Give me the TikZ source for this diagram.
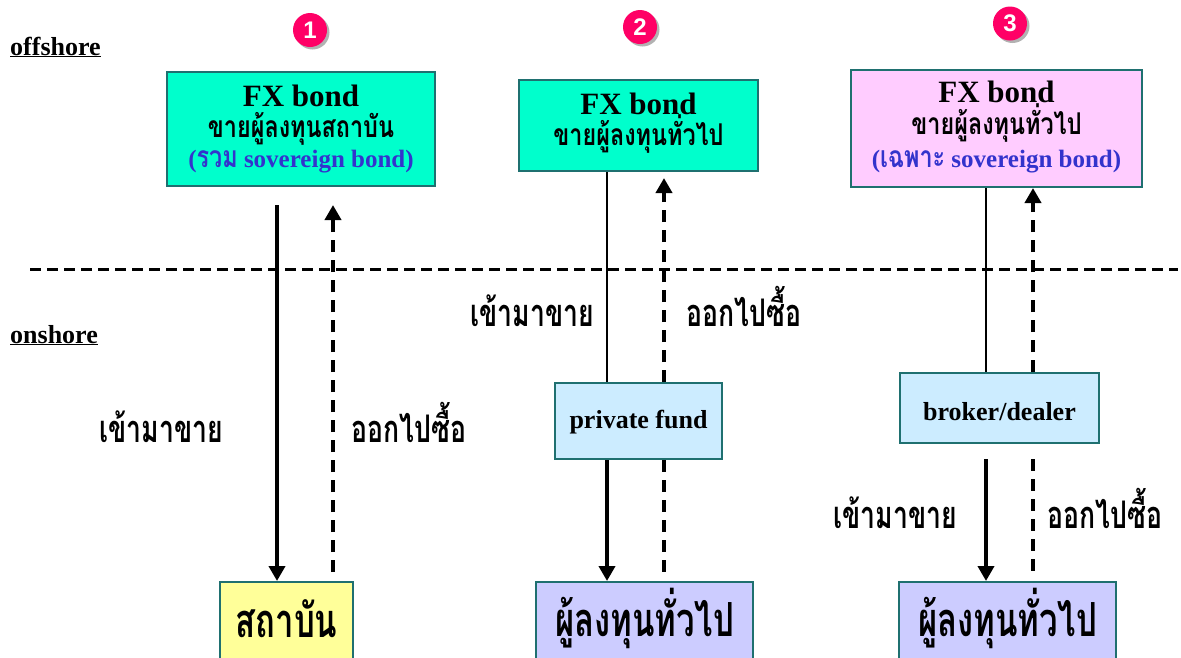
\documentclass[tikz,border=0pt]{standalone}
\usepackage{fontspec}
\setmainfont{Liberation Serif}
\newfontfamily\thai[Script=Thai, FakeStretch=0.7]{Loma}
\newfontfamily\thaiw[Script=Thai, FakeStretch=0.78]{Loma}
\newfontfamily\badgefont{Liberation Sans}
\usetikzlibrary{arrows.meta}
\definecolor{boxline}{HTML}{1F7070}
\definecolor{cyanfill}{HTML}{00FFCC}
\definecolor{pinkfill}{HTML}{FFCCFF}
\definecolor{lbfill}{HTML}{CCECFF}
\definecolor{lavfill}{HTML}{CCCCFF}
\definecolor{yelfill}{HTML}{FFFF99}
\definecolor{bluetxt}{HTML}{3333CC}
\definecolor{badge}{HTML}{FF0066}
\newcommand{\thaibl}{\thaiw\fontsize{30}{32}\selectfont}
\tikzset{
  box/.style={draw=boxline, line width=2pt, inner sep=0pt},
  txt/.style={inner sep=0pt, anchor=base},
  fx/.style={txt, font=\bfseries\fontsize{31}{33}\selectfont},
  thl/.style={txt, font=\thaiw\bfseries\fontsize{30}{32}\selectfont},
  bl/.style={txt, text=bluetxt, font=\bfseries\fontsize{25}{28}\selectfont},
  lat/.style={txt, font=\bfseries\fontsize{26}{28}\selectfont},
  big/.style={txt, font=\thai\bfseries\fontsize{47}{50}\selectfont},
  sarr/.style={line width=4pt, -{Triangle[length=15pt,width=16pt]}},
  thinln/.style={line width=2pt},
  dsh/.style={line width=4pt, dash pattern=on 12pt off 8pt},
  hdsh/.style={line width=3pt, dash pattern=on 11pt off 6pt},
  darr/.style={dsh, -{Triangle[length=15pt,width=16pt]}},
  lbl/.style={txt, font=\thai\bfseries\fontsize{38}{40}\selectfont},
  side/.style={txt, anchor=base west, font=\bfseries\fontsize{26}{28}\selectfont},
  badgec/.style={circle, fill=badge, minimum size=34pt, inner sep=0pt, text=white, font=\badgefont\bfseries\fontsize{24}{24}\selectfont},
  badgesh/.style={circle, fill=black!30, minimum size=34pt, inner sep=0pt},
}
\begin{document}
\begin{tikzpicture}[x=1pt,y=-1pt]
\useasboundingbox (0,0) rectangle (1181,657);
\clip (0,0) rectangle (1181,657);

% side labels
\node[side] (off) at (10,55) {\underline{offshore}};
\node[side] (on) at (10,343) {\underline{onshore}};

% badges
\foreach \nm/\xx/\yy/\t in {n1/310/30/1, n2/640/27/2, n3/1010/23.5/3}{
  \node[badgesh] at (\xx+2.5,\yy+2.5) {};
  \node[badgec] (\nm) at (\xx,\yy) {\t};
}

% top boxes
\node[box, fill=cyanfill, minimum width=268pt, minimum height=114pt] (b1) at (301,129) {};
\node[fx]  (b1a) at (301,106) {FX bond};
\node[thl] (b1b) at (301,137) {ขายผู้ลงทุนสถาบัน};
\node[bl]  (b1c) at (301,167) {({\thaibl รวม} sovereign bond)};

\node[box, fill=cyanfill, minimum width=239pt, minimum height=91pt] (b2) at (638.5,125.5) {};
\node[fx]  (b2a) at (638.5,114) {FX bond};
\node[thl] (b2b) at (638.5,145) {ขายผู้ลงทุนทั่วไป};

\node[box, fill=pinkfill, minimum width=291pt, minimum height=117pt] (b3) at (996.5,128.5) {};
\node[fx]  (b3a) at (996.5,102) {FX bond};
\node[thl] (b3b) at (996.5,134) {ขายผู้ลงทุนทั่วไป};
\node[bl]  (b3c) at (996.5,167) {({\thaibl เฉพาะ} sovereign bond)};

% divider
\coordinate (dl) at (30,269);
\coordinate (dr) at (1178,269);
\draw[hdsh] (dl) -- (dr);

% middle boxes
\node[box, fill=lbfill, minimum width=167pt, minimum height=76pt] (pf) at (638.5,421) {};
\node[lat] (pft) at (638.5,428) {private fund};
\node[box, fill=lbfill, minimum width=199pt, minimum height=70pt] (bd) at (999.5,408) {};
\node[lat] (bdt) at (999.5,420) {broker/dealer};

% bottom boxes
\node[box, fill=yelfill, minimum width=133pt, minimum height=82pt, anchor=north] (inst) at (286.5,581) {};
\node[big] (instt) at (286.5,637) {สถาบัน};
\node[box, fill=lavfill, minimum width=217pt, minimum height=82pt, anchor=north] (inv2) at (644.5,581) {};
\node[big] (inv2t) at (644.5,636) {ผู้ลงทุนทั่วไป};
\node[box, fill=lavfill, minimum width=217pt, minimum height=82pt, anchor=north] (inv3) at (1007.5,581) {};
\node[big] (inv3t) at (1007.5,636) {ผู้ลงทุนทั่วไป};

% column x positions
\coordinate (x1s) at (277,0);
\coordinate (x1d) at (333,0);
\coordinate (x2s) at (607,0);
\coordinate (x2d) at (664,0);
\coordinate (x3s) at (986,0);
\coordinate (x3d) at (1033,0);

% column 1
\draw[sarr, shorten <=18pt] (b1.south -| x1s) -- (inst.north -| x1s);
\draw[darr, shorten <=9pt, shorten >=18pt] (inst.north -| x1d) -- (b1.south -| x1d);
% column 2
\draw[thinln] (b2.south -| x2s) -- (pf.north -| x2s);
\draw[darr, shorten >=6pt] (pf.north -| x2d) -- (b2.south -| x2d);
\draw[sarr] (pf.south -| x2s) -- (inv2.north -| x2s);
\draw[dsh, shorten >=9pt] (pf.south -| x2d) -- (inv2.north -| x2d);
% column 3
\draw[thinln] (b3.south -| x3s) -- (bd.north -| x3s);
\draw[darr] (bd.north -| x3d) -- (b3.south -| x3d);
\draw[sarr, shorten <=15pt] (bd.south -| x3s) -- (inv3.north -| x3s);
\draw[dsh, shorten <=15pt, shorten >=9pt] (bd.south -| x3d) -- (inv3.north -| x3d);

% flow labels
\node[lbl] (l1a) at (161,442) {เข้ามาขาย};
\node[lbl] (l1b) at (409,442) {ออกไปซื้อ};
\node[lbl] (l2a) at (532,326) {เข้ามาขาย};
\node[lbl] (l2b) at (744,326) {ออกไปซื้อ};
\node[lbl] (l3a) at (895,528) {เข้ามาขาย};
\node[lbl] (l3b) at (1105,528) {ออกไปซื้อ};
\end{tikzpicture}
\end{document}
